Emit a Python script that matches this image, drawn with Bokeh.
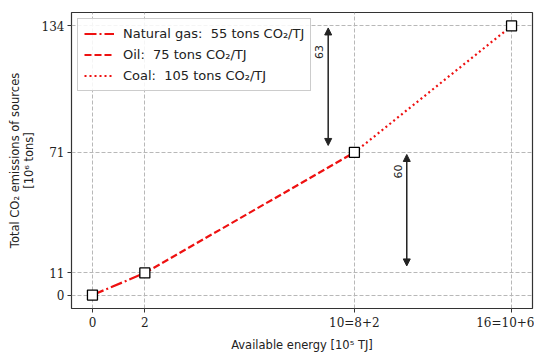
from bokeh.plotting import figure
from bokeh.models import (FixedTicker, Legend, LegendItem, Arrow, NormalHead, Label)
from bokeh.embed import file_html
from bokeh.resources import INLINE

# data
energy = [0, 2, 10, 16]
emissions = [0, 11, 71, 134]
x_tick_labels = {0: "0", 2: "2", 10: "10=8+2", 16: "16=10+6"}
source_names = ["Natural gas:  55 tons CO\u2082/TJ", "Oil:  75 tons CO\u2082/TJ", "Coal:  105 tons CO\u2082/TJ"]
dashes = ["12 3 2 3", "7 3", "2 3"]
diff_x = [9, 12]
diff_from = [71, 11]
diff_to = [134, 71]
diff_text = ["63", "60"]
diff_label_y = [121, 61.5]

p = figure(width=534, height=354, output_backend="svg", toolbar_location=None,
           x_range=(-0.8, 16.8), y_range=(-6.7, 140.7),
           min_border_left=71, min_border_right=2, min_border_top=12, min_border_bottom=42)
p.background_fill_color = "white"
p.border_fill_color = "white"
p.outline_line_color = "#333333"
p.outline_line_width = 1.2

items = []
for i, (name, dash) in enumerate(zip(source_names, dashes)):
    r = p.line(energy[i:i + 2], emissions[i:i + 2], line_color="#ee1111", line_width=2.2, line_dash=dash)
    items.append(LegendItem(label=name, renderers=[r]))

p.scatter(energy, emissions, marker="square", size=10, fill_color="white", line_color="black", line_width=1.3)

for xv, y0, y1, txt, ly in zip(diff_x, diff_from, diff_to, diff_text, diff_label_y):
    pad = 2
    p.add_layout(Arrow(start=NormalHead(size=7, fill_color="#222222", line_color="#222222"),
                       end=NormalHead(size=7, fill_color="#222222", line_color="#222222"),
                       x_start=xv, y_start=y0 + pad + 1.5, x_end=xv, y_end=y1 - pad + 1,
                       line_color="#222222", line_width=1.5))
    p.add_layout(Label(x=xv, y=ly, text=txt, angle=90, angle_units="deg",
                       x_offset=-9, text_align="center", text_baseline="middle",
                       text_font="DejaVu Sans", text_font_size="11px", text_color="#222222"))

for ax in (p.xaxis[0], p.yaxis[0]):
    ax.axis_line_color = None
    ax.major_tick_in = 0
    ax.major_tick_out = 4
    ax.major_tick_line_color = "#333333"
    ax.minor_tick_line_color = None
    ax.major_label_standoff = 3
    ax.major_label_text_font = "DejaVu Serif"
    ax.major_label_text_font_size = "12px"
    ax.major_label_text_color = "#222222"
    ax.axis_label_text_font = "DejaVu Sans"
    ax.axis_label_text_font_style = "normal"
    ax.axis_label_text_font_size = "11.5px"
    ax.axis_label_text_color = "#222222"

p.xaxis.ticker = FixedTicker(ticks=energy)
p.xaxis.major_label_overrides = x_tick_labels
p.yaxis.ticker = FixedTicker(ticks=emissions)
p.xaxis.axis_label = "Available energy [10\u2075 TJ]"
p.yaxis.axis_label = "Total CO\u2082 emissions of sources\n[10\u2076 tons]"
p.yaxis.axis_label_text_line_height = 0.95
p.xaxis.axis_label_standoff = 5
p.yaxis.axis_label_standoff = 3

for g in (p.xgrid[0], p.ygrid[0]):
    g.grid_line_color = "#b8b8b8"
    g.grid_line_dash = "4 2"
    g.grid_line_width = 1

legend = Legend(items=items, location="top_left", label_text_font="DejaVu Sans",
                label_text_font_size="13px", label_text_color="#222222",
                glyph_width=30, glyph_height=17, label_height=17, spacing=4,
                padding=6, margin=6, border_line_color="#cccccc", border_line_alpha=1,
                background_fill_alpha=0.85, label_standoff=9)
p.add_layout(legend)

open("out.html", "w").write(file_html(p, INLINE))
